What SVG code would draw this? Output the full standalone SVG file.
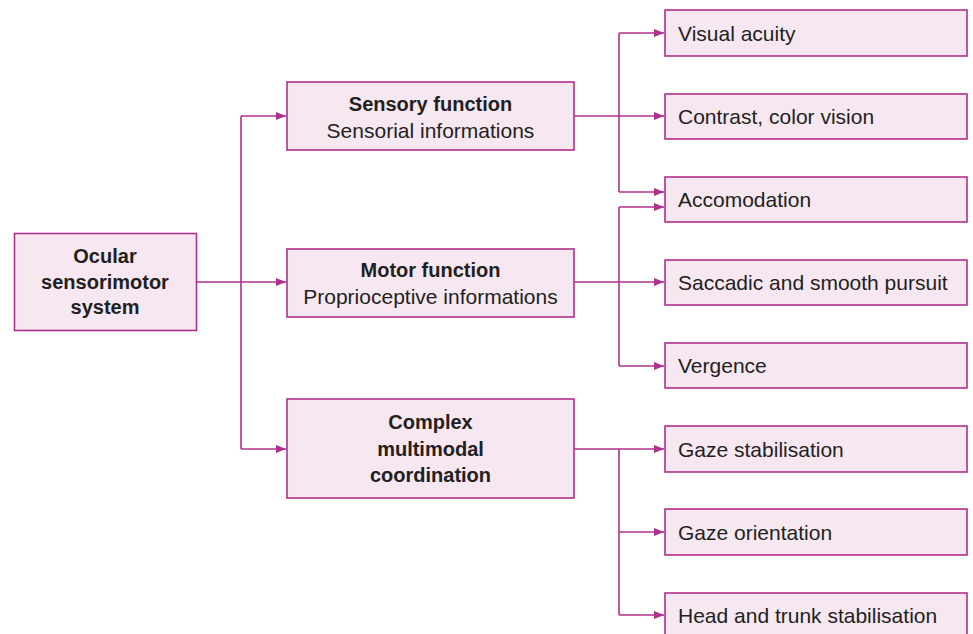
<svg xmlns="http://www.w3.org/2000/svg" width="973" height="634" viewBox="0 0 973 634">
<style>
.box{fill:#f6e7f1;stroke:#b0308e;stroke-width:1.6}
.t{font-family:"Liberation Sans",Arial,sans-serif;font-size:21px;fill:#231f20}
.b{font-weight:bold;font-size:20px}
.c{text-anchor:middle}
.ln{fill:none;stroke:#b0308e;stroke-width:1.6}
</style>
<defs>
<marker id="ah" viewBox="0 0 10 8" refX="10" refY="4" markerWidth="10" markerHeight="8" markerUnits="userSpaceOnUse" orient="auto">
<path d="M0,0 L10,4 L0,8 z" fill="#b0308e"/>
</marker>
</defs>
<rect width="973" height="634" fill="#ffffff"/>
<g id="connectors">
<path class="ln" d="M196,282 H286" marker-end="url(#ah)"/>
<path class="ln" d="M241,116 V449"/>
<path class="ln" d="M241,116 H286" marker-end="url(#ah)"/>
<path class="ln" d="M241,449 H286" marker-end="url(#ah)"/>
<path class="ln" d="M574,116 H664" marker-end="url(#ah)"/>
<path class="ln" d="M619,33 V192"/>
<path class="ln" d="M619,33 H664" marker-end="url(#ah)"/>
<path class="ln" d="M619,192 H664" marker-end="url(#ah)"/>
<path class="ln" d="M574,282 H664" marker-end="url(#ah)"/>
<path class="ln" d="M619,207 V366"/>
<path class="ln" d="M619,207 H664" marker-end="url(#ah)"/>
<path class="ln" d="M619,366 H664" marker-end="url(#ah)"/>
<path class="ln" d="M574,449 H664" marker-end="url(#ah)"/>
<path class="ln" d="M619,449 V615"/>
<path class="ln" d="M619,532 H664" marker-end="url(#ah)"/>
<path class="ln" d="M619,615 H664" marker-end="url(#ah)"/>
</g>
<g id="ocular">
<rect class="box" x="14.5" y="233.5" width="182" height="97"/>
<text class="t b c" x="105" y="263">Ocular</text>
<text class="t b c" x="105" y="289">sensorimotor</text>
<text class="t b c" x="105" y="314">system</text>
</g>
<g id="sensory">
<rect class="box" x="287" y="82" width="287" height="68"/>
<text class="t b c" x="430.5" y="111">Sensory function</text>
<text class="t c" x="430.5" y="138">Sensorial informations</text>
</g>
<g id="motor">
<rect class="box" x="287" y="249" width="287" height="68"/>
<text class="t b c" x="430.5" y="277">Motor function</text>
<text class="t c" x="430.5" y="304">Proprioceptive informations</text>
</g>
<g id="complex">
<rect class="box" x="287" y="399" width="287" height="99"/>
<text class="t b c" x="430.5" y="429">Complex</text>
<text class="t b c" x="430.5" y="455.5">multimodal</text>
<text class="t b c" x="430.5" y="481.5">coordination</text>
</g>
<g id="visual-acuity">
<rect class="box" x="665" y="10" width="302" height="46"/>
<text class="t" x="678" y="40.5">Visual acuity</text>
</g>
<g id="contrast">
<rect class="box" x="665" y="94" width="302" height="45"/>
<text class="t" x="678" y="123.5">Contrast, color vision</text>
</g>
<g id="accomodation">
<rect class="box" x="665" y="177" width="302" height="45"/>
<text class="t" x="678" y="206.5">Accomodation</text>
</g>
<g id="saccadic">
<rect class="box" x="665" y="260" width="302" height="45"/>
<text class="t" x="678" y="289.5">Saccadic and smooth pursuit</text>
</g>
<g id="vergence">
<rect class="box" x="665" y="343" width="302" height="45"/>
<text class="t" x="678" y="372.5">Vergence</text>
</g>
<g id="gaze-stabilisation">
<rect class="box" x="665" y="426" width="302" height="46"/>
<text class="t" x="678" y="456.5">Gaze stabilisation</text>
</g>
<g id="gaze-orientation">
<rect class="box" x="665" y="509" width="302" height="46"/>
<text class="t" x="678" y="539.5">Gaze orientation</text>
</g>
<g id="head-trunk">
<rect class="box" x="665" y="593" width="302" height="48"/>
<text class="t" x="678" y="622.5">Head and trunk stabilisation</text>
</g>
</svg>
